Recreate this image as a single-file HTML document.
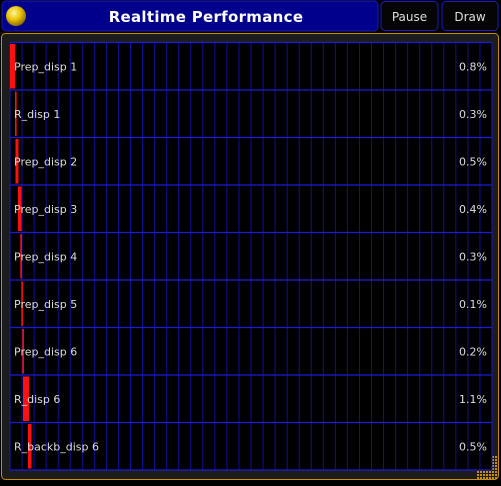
<!DOCTYPE html>
<html><head><meta charset="utf-8"><style>
body{margin:0;background:#000;width:501px;height:482px;overflow:hidden;font-family:"DejaVu Sans","Liberation Sans",sans-serif}
</style></head><body>
<svg width="501" height="482" xmlns="http://www.w3.org/2000/svg">
<defs>
<radialGradient id="ball" cx="0.4" cy="0.35" r="0.7"><stop offset="0" stop-color="#fff6a0"/><stop offset="0.5" stop-color="#e8c000"/><stop offset="1" stop-color="#806000"/></radialGradient>
<pattern id="dots" width="3" height="3" patternUnits="userSpaceOnUse"><rect width="2" height="2" fill="#c89000"/></pattern>
</defs>
<rect x="0" y="0" width="501" height="482" fill="#000"/>
<rect x="2" y="1" width="376" height="30" rx="4" fill="#00008c" stroke="#1a1ab0"/>
<circle cx="16" cy="16" r="10" fill="url(#ball)"/>
<text x="206" y="22" text-anchor="middle" fill="#fff" font-size="15" font-weight="bold" font-family="DejaVu Sans, sans-serif" letter-spacing="0.3">Realtime Performance</text>
<g><rect x="381" y="1.5" width="57" height="29" rx="4" fill="#050505" stroke="#1a1acc"/><text x="409.5" y="21" text-anchor="middle" fill="#ddd" font-size="12">Pause</text></g>
<g><rect x="442" y="1.5" width="56" height="29" rx="4" fill="#050505" stroke="#1a1acc"/><text x="470" y="21" text-anchor="middle" fill="#ddd" font-size="12">Draw</text></g>
<rect x="1.5" y="33.5" width="497" height="446" rx="4" fill="#1c1c1c" stroke="#c89000"/>
<rect x="476" y="456" width="22" height="23" fill="url(#dots)"/>
<g id="chart"></g>
</svg>
<script>
const labels=["Prep_disp 1","R_disp 1","Prep_disp 2","Prep_disp 3","Prep_disp 4","Prep_disp 5","Prep_disp 6","R_disp 6","R_backb_disp 6"];
const percents=["0.8%","0.3%","0.5%","0.4%","0.3%","0.1%","0.2%","1.1%","0.5%"];
const starts=[0,5,5.5,8,10.3,11.3,12.3,13,18];
const durations=[5,1.5,3,3.5,1.2,1.2,1.2,6,3.5];
const gridCount=40;
const X0=10,X1=492,Y0=42.5,RH=47.5,UNIT=1;
const xs=v=>X0+v*UNIT;
const ys=i=>Y0+i*RH;
const ns="http://www.w3.org/2000/svg";
const g=document.getElementById('chart');
function mk(t,a){const e=document.createElementNS(ns,t);for(const k in a)e.setAttribute(k,a[k]);g.appendChild(e);return e;}
let bg=mk('rect',{x:X0,y:Y0,width:X1-X0,height:RH*labels.length,fill:'#000'});


const step=(X1-X0)/gridCount;
for(let k=1;k<gridCount;k++){const l=mk('line',{x1:X0+k*step,x2:X0+k*step,y1:Y0,y2:ys(labels.length),stroke:'#10109a','stroke-width':1});

}
for(let i=0;i<=labels.length;i++){const l=mk('line',{x1:X0,x2:X1,y1:ys(i),y2:ys(i),stroke:'#1c1cd8','stroke-width':1.3});

}
mk('line',{x1:X0,x2:X0,y1:Y0,y2:ys(labels.length),stroke:'#1818c8'});
mk('line',{x1:X1,x2:X1,y1:Y0,y2:ys(labels.length),stroke:'#1818c8'});
labels.forEach((lab,i)=>{
 const b=mk('rect',{x:xs(starts[i]),y:ys(i)+1.5,width:Math.max(durations[i]*UNIT,1.6),height:RH-3,fill:'#ff1010'});
 
 
 const t=mk('text',{x:14,y:ys(i)+RH/2+4,fill:'#ddd','font-size':11});t.textContent=lab;
 
 
 const p=mk('text',{x:487,y:ys(i)+RH/2+4,fill:'#ddd','font-size':11,'text-anchor':'end'});p.textContent=percents[i];
 
 
});
</script>
</body></html>
